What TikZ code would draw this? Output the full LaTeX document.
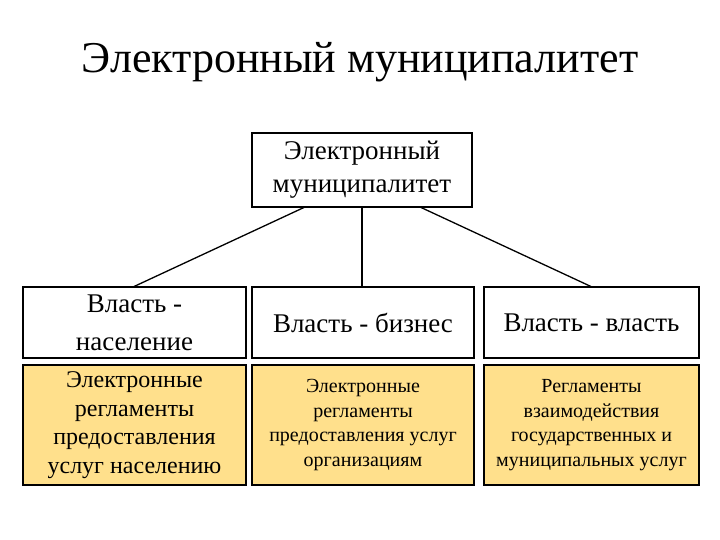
\documentclass[tikz,border=0pt]{standalone}
\usepackage{fontspec}
\setmainfont{Liberation Serif}
\definecolor{yel}{RGB}{255,224,140}
\begin{document}
\begin{tikzpicture}[x=1pt,y=-1pt,
  bx/.style={draw=black,line width=1.3pt,inner sep=1pt,align=center},
  ln/.style={line width=1.3pt}]
\useasboundingbox (0,0) rectangle (720,540);
\node[font=\fontsize{44}{50}\selectfont] (title) at (360,62) {Электронный муниципалитет};
\node[bx,minimum width=220pt,minimum height=74pt,font=\fontsize{27}{33}\selectfont] (top) at (362,170) {Электронный\\муниципалитет};
\node[bx,minimum width=223pt,minimum height=71pt,font=\fontsize{27}{38}\selectfont] (a) at (134.5,322.5) {Власть -\\население};
\node[bx,minimum width=222pt,minimum height=71pt,font=\fontsize{27}{33}\selectfont] (b) at (363,322.5) {Власть - бизнес};
\node[bx,minimum width=215pt,minimum height=71pt,font=\fontsize{27}{33}\selectfont] (c) at (591.5,322.5) {Власть - власть};
\node[bx,fill=yel,minimum width=223pt,minimum height=120pt,font=\fontsize{24}{28.5}\selectfont] (a2) at (134.5,425) {Электронные\\регламенты\\предоставления\\услуг населению};
\node[bx,fill=yel,minimum width=222pt,minimum height=120pt,font=\fontsize{20}{24.5}\selectfont] (b2) at (363,425) {Электронные\\регламенты\\предоставления услуг\\организациям};
\node[bx,fill=yel,minimum width=215pt,minimum height=120pt,font=\fontsize{20}{24.5}\selectfont] (c2) at (591.5,425) {Регламенты\\взаимодействия\\государственных и\\муниципальных услуг};
\coordinate (t1) at (305,207);
\coordinate (t3) at (420,207);
\coordinate (a1) at (133,287);
\coordinate (c1) at (592,287);
\draw[ln] (t1) -- (a1);
\draw[ln] (top.south) -- (top.south |- b.north);
\draw[ln] (t3) -- (c1);
\end{tikzpicture}
\end{document}
